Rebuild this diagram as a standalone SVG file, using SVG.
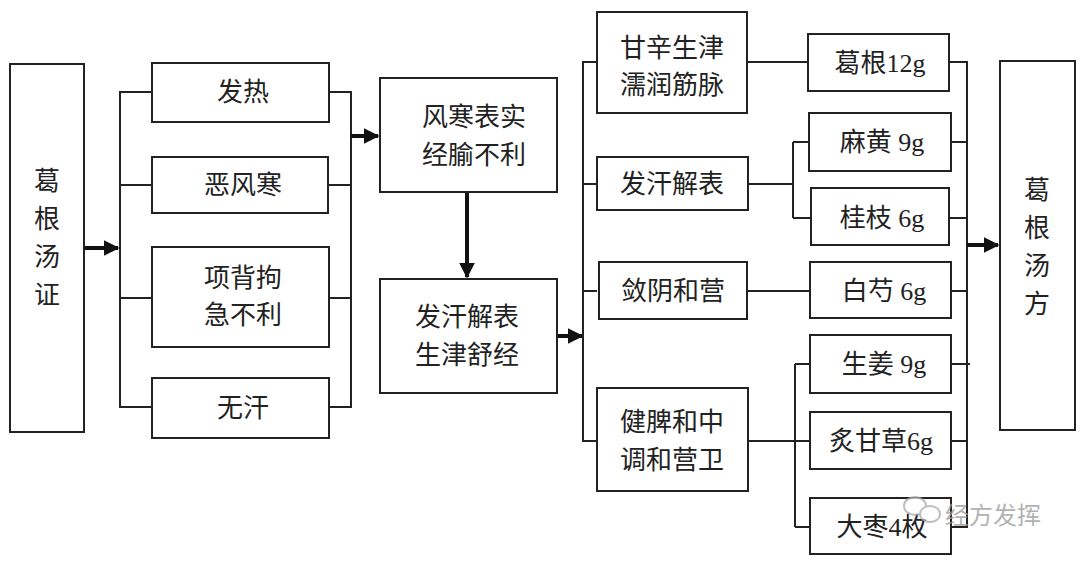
<svg xmlns="http://www.w3.org/2000/svg" width="1080" height="561" viewBox="0 0 1080 561">
<style>
.b{fill:#fff;stroke:#222;stroke-width:2}
.l{fill:none;stroke:#222;stroke-width:2}
.a{fill:none;stroke:#111;stroke-width:4}
text{font-family:"Liberation Serif","Noto Sans CJK SC",serif;font-size:26px;fill:#222;text-anchor:middle}
</style>
<defs><marker id="m" viewBox="0 0 10 10" refX="9" refY="5" markerWidth="4" markerHeight="4" orient="auto" markerUnits="strokeWidth"><path d="M0,0L10,5L0,10z" fill="#111"/></marker></defs>
<rect width="1080" height="561" fill="#fff"/>
<g id="connectors">
<path class="l" d="M152,92H120V407H152M120,185H152M120,298H152M329,92H351V407H329M329,185H351M329,298H351"/>
<path class="a" d="M84,248H118" marker-end="url(#m)"/>
<path class="a" d="M351,136H378" marker-end="url(#m)"/>
<path class="a" d="M467,192V277" marker-end="url(#m)"/>
<path class="a" d="M557,336H582" marker-end="url(#m)"/>
<path class="l" d="M597,62H583V441H597M583,184H597M583,291H597"/>
<path class="l" d="M747,62H808M748,184H793M793,142V218M793,142H809M793,218H811M747,291H810M748,441H795M795,364V527M795,364H810M795,441H810M795,527H810"/>
<path class="l" d="M949,62H967V527H951M951,142H967M949,218H967M951,291H967M951,364H970M951,441H967"/>
<path class="a" d="M967,245H998" marker-end="url(#m)"/>
</g>
<g id="n1"><rect class="b" x="10" y="64" width="74" height="368"/><text x="47" y="190">葛</text><text x="47" y="228">根</text><text x="47" y="266">汤</text><text x="47" y="304">证</text></g>
<g id="n2"><rect class="b" x="152" y="63" width="177" height="59"/><text x="243" y="101">发热</text></g>
<g id="n3"><rect class="b" x="152" y="157" width="176" height="56"/><text x="243" y="194">恶风寒</text></g>
<g id="n4"><rect class="b" x="152" y="247" width="177" height="100"/><text x="243" y="287">项背拘</text><text x="243" y="324">急不利</text></g>
<g id="n5"><rect class="b" x="152" y="378" width="177" height="60"/><text x="243" y="417">无汗</text></g>
<g id="n6"><rect class="b" x="380" y="78" width="177" height="114"/><text x="474" y="126">风寒表实</text><text x="474" y="164">经腧不利</text></g>
<g id="n7"><rect class="b" x="380" y="279" width="177" height="114"/><text x="467" y="326">发汗解表</text><text x="467" y="364">生津舒经</text></g>
<g id="n8"><rect class="b" x="597" y="12" width="150" height="101"/><text x="672" y="57">甘辛生津</text><text x="672" y="94">濡润筋脉</text></g>
<g id="n9"><rect class="b" x="597" y="157" width="151" height="53"/><text x="672" y="193">发汗解表</text></g>
<g id="n10"><rect class="b" x="599" y="262" width="148" height="57"/><text x="673" y="300">敛阴和营</text></g>
<g id="n11"><rect class="b" x="597" y="388" width="151" height="103"/><text x="672" y="431">健脾和中</text><text x="672" y="469">调和营卫</text></g>
<g id="n12"><rect class="b" x="808" y="34" width="141" height="57"/><text x="880" y="72">葛根12g</text></g>
<g id="n13"><rect class="b" x="809" y="113" width="142" height="58"/><text x="882" y="151">麻黄 9g</text></g>
<g id="n14"><rect class="b" x="811" y="188" width="138" height="57"/><text x="882" y="227">桂枝 6g</text></g>
<g id="n15"><rect class="b" x="810" y="262" width="141" height="56"/><text x="884" y="300">白芍 6g</text></g>
<g id="n16"><rect class="b" x="810" y="335" width="141" height="58"/><text x="884" y="373">生姜 9g</text></g>
<g id="n17"><rect class="b" x="810" y="412" width="141" height="57"/><text x="881" y="450">炙甘草6g</text></g>
<g id="n18"><rect class="b" x="810" y="498" width="141" height="56"/><text x="882" y="536">大枣4枚</text></g>
<g id="n19"><rect class="b" x="1000" y="61" width="75" height="369"/><text x="1037" y="199">葛</text><text x="1037" y="237">根</text><text x="1037" y="275">汤</text><text x="1037" y="313">方</text></g>
<g id="watermark" opacity="0.75"><ellipse cx="915" cy="506" rx="11" ry="9" fill="#fff" stroke="#aaa" stroke-width="2"/><ellipse cx="930" cy="514" rx="10" ry="8" fill="#fff" stroke="#aaa" stroke-width="2"/><text x="993" y="524" style="fill:#999;font-size:24px">经方发挥</text></g>
</svg>
